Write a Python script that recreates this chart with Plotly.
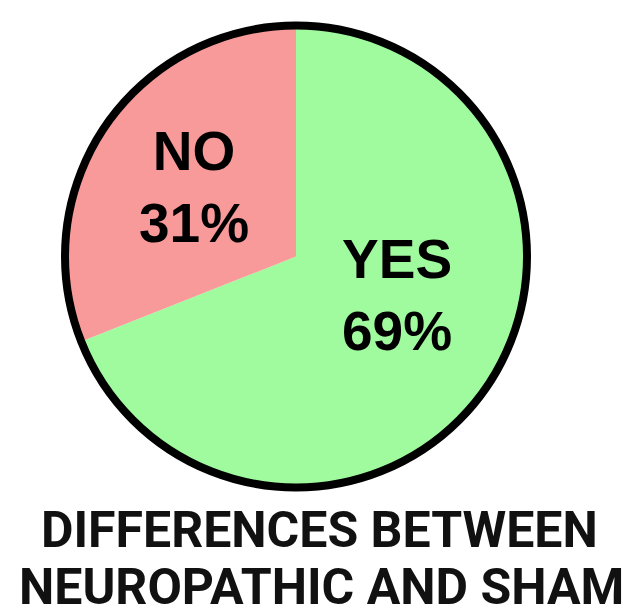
import plotly.graph_objects as go

labels = ["YES", "NO"]
values = [69, 31]
colors = ["#a0fb9f", "#f89a9a"]
title_lines = ["DIFFERENCES BETWEEN", "NEUROPATHIC AND SHAM"]

W, H = 634, 609
cx, cy, r = 296, 256.5, 231  # pixel centre / domain half-size (from top)

dom_x = [(cx - r) / W, (cx + r) / W]
dom_y = [(H - cy - r) / H, (H - cy + r) / H]

fig = go.Figure()
fig.add_trace(go.Pie(
    labels=labels, values=values, sort=False, direction="clockwise", rotation=0,
    marker=dict(colors=colors, line=dict(width=0)),
    textinfo="none", hoverinfo="label+percent", showlegend=False,
    domain=dict(x=dom_x, y=dom_y),
))
# outer ring
fig.add_trace(go.Pie(
    labels=["all"], values=[sum(values)], sort=False,
    marker=dict(colors=["rgba(0,0,0,0)"], line=dict(color="black", width=8)),
    textinfo="none", hoverinfo="skip", showlegend=False,
    domain=dict(x=dom_x, y=dom_y),
))

label_pos = {"NO": (194, 187), "YES": (397, 295)}
for lab, val in zip(labels, values):
    px, py = label_pos[lab]
    fig.add_annotation(
        x=px / W, y=1 - py / H, xref="paper", yref="paper",
        text=f"{lab}<br>{val}%", showarrow=False,
        font=dict(family="Liberation Sans", size=55, color="black", weight="bold"),
        xanchor="center", yanchor="middle",
    )

title_pos = [(319, 530), (321, 587)]
for line, (px, py) in zip(title_lines, title_pos):
    fig.add_annotation(
        x=px / W, y=1 - py / H, xref="paper", yref="paper",
        text=line, showarrow=False, height=42, valign="middle",
        font=dict(family="Roboto", size=50, color="#111111", weight="bold"),
        xanchor="center", yanchor="middle",
    )

fig.update_layout(
    width=W, height=H, margin=dict(l=0, r=0, t=0, b=0),
    paper_bgcolor="white", plot_bgcolor="white",
)
fig.write_html(
    "out.html",
    config={"displayModeBar": False},
    post_script="document.body.style.margin='0';document.body.style.overflow='hidden';",
)
